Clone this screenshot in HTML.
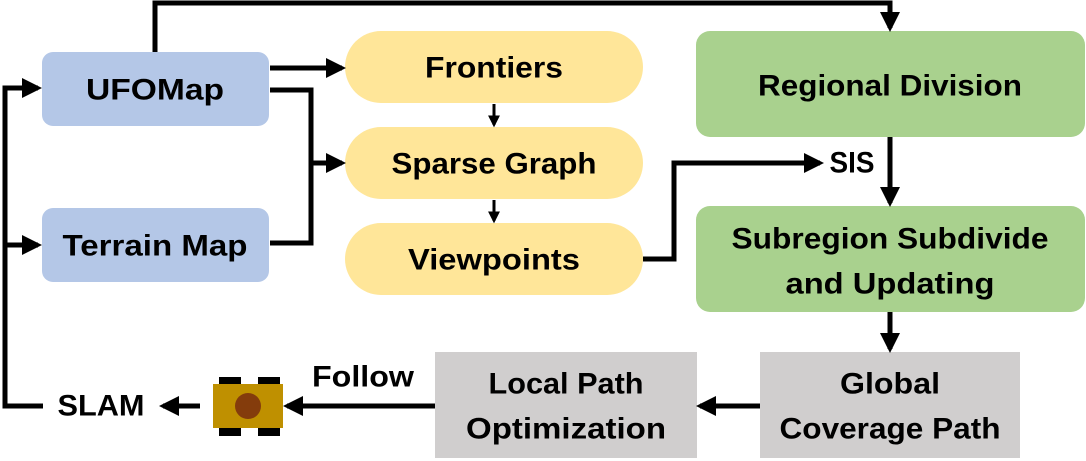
<!DOCTYPE html>
<html><head><meta charset="utf-8"><style>
html,body{margin:0;padding:0;background:#fff;}
svg{display:block;}
text{font-family:"Liberation Sans",sans-serif;font-weight:bold;fill:#000;text-anchor:middle;dominant-baseline:central;}
</style></head><body>
<svg width="1086" height="461" viewBox="0 0 1086 461" xmlns="http://www.w3.org/2000/svg">
<defs>
<marker id="a" markerWidth="4" markerHeight="4" refX="3.2" refY="2" orient="auto" markerUnits="strokeWidth">
<path d="M0,0 L4,2 L0,4 Z" fill="#000"/>
</marker>
</defs>
<rect x="42" y="52" width="227" height="74" rx="11" fill="#b4c7e7"/>
<rect x="42" y="208" width="227" height="74" rx="11" fill="#b4c7e7"/>
<rect x="345" y="31" width="298" height="72" rx="36" fill="#ffe699"/>
<rect x="345" y="127" width="298" height="72" rx="36" fill="#ffe699"/>
<rect x="345" y="223" width="298" height="72" rx="36" fill="#ffe699"/>
<rect x="696" y="31" width="389" height="106" rx="14" fill="#a9d18e"/>
<rect x="696" y="206" width="389" height="106" rx="14" fill="#a9d18e"/>
<rect x="435" y="352" width="262" height="106" fill="#d0cece"/>
<rect x="760" y="352" width="260" height="106" fill="#d0cece"/>
<g fill="none" stroke="#000" stroke-width="5">
<polyline points="155,52 155,3 890,3 890,28" marker-end="url(#a)"/>
<line x1="270" y1="68" x2="342" y2="68" marker-end="url(#a)"/>
<polyline points="270,90 311,90 311,243 270,243"/>
<line x1="311" y1="163" x2="342" y2="163" marker-end="url(#a)"/>
<line x1="494" y1="104" x2="494" y2="125" stroke-width="3" marker-end="url(#a)"/>
<line x1="494" y1="200" x2="494" y2="221" stroke-width="3" marker-end="url(#a)"/>
<polyline points="643,259 674,259 674,163 820,163" marker-end="url(#a)"/>
<line x1="890" y1="137" x2="890" y2="203" marker-end="url(#a)"/>
<line x1="890" y1="312" x2="890" y2="349" marker-end="url(#a)"/>
<line x1="760" y1="406" x2="700" y2="406" marker-end="url(#a)"/>
<line x1="435" y1="406" x2="287" y2="406" marker-end="url(#a)"/>
<line x1="200" y1="406" x2="163" y2="406" marker-end="url(#a)"/>
<polyline points="43,406 5,406 5,88 38,88" marker-end="url(#a)"/>
<line x1="5" y1="245" x2="38" y2="245" marker-end="url(#a)"/>
</g>
<rect x="219" y="377" width="22" height="8" fill="#000"/>
<rect x="258" y="377" width="22" height="8" fill="#000"/>
<rect x="219" y="428" width="22" height="8" fill="#000"/>
<rect x="258" y="428" width="22" height="8" fill="#000"/>
<rect x="213" y="384" width="70" height="44" fill="#bf9000"/>
<circle cx="248" cy="406" r="13" fill="#843c0c"/>
<g font-size="30">
<text x="155" y="90" textLength="138" lengthAdjust="spacingAndGlyphs">UFOMap</text>
<text x="155" y="246" textLength="185" lengthAdjust="spacingAndGlyphs">Terrain Map</text>
<text x="494" y="68" textLength="138" lengthAdjust="spacingAndGlyphs">Frontiers</text>
<text x="494" y="164" textLength="205" lengthAdjust="spacingAndGlyphs">Sparse Graph</text>
<text x="494" y="260" textLength="172" lengthAdjust="spacingAndGlyphs">Viewpoints</text>
<text x="890" y="86" textLength="264" lengthAdjust="spacingAndGlyphs">Regional Division</text>
<text x="890" y="239" textLength="317" lengthAdjust="spacingAndGlyphs">Subregion Subdivide</text>
<text x="890" y="284" textLength="209" lengthAdjust="spacingAndGlyphs">and Updating</text>
<text x="566" y="384" textLength="155" lengthAdjust="spacingAndGlyphs">Local Path</text>
<text x="566" y="429" textLength="200" lengthAdjust="spacingAndGlyphs">Optimization</text>
<text x="890" y="384" textLength="100" lengthAdjust="spacingAndGlyphs">Global</text>
<text x="890" y="429" textLength="221" lengthAdjust="spacingAndGlyphs">Coverage Path</text>
<text x="852" y="163" textLength="45" lengthAdjust="spacingAndGlyphs">SIS</text>
<text x="363" y="377" textLength="102" lengthAdjust="spacingAndGlyphs">Follow</text>
<text x="101" y="406" textLength="87" lengthAdjust="spacingAndGlyphs">SLAM</text>
</g>
</svg>
</body></html>
